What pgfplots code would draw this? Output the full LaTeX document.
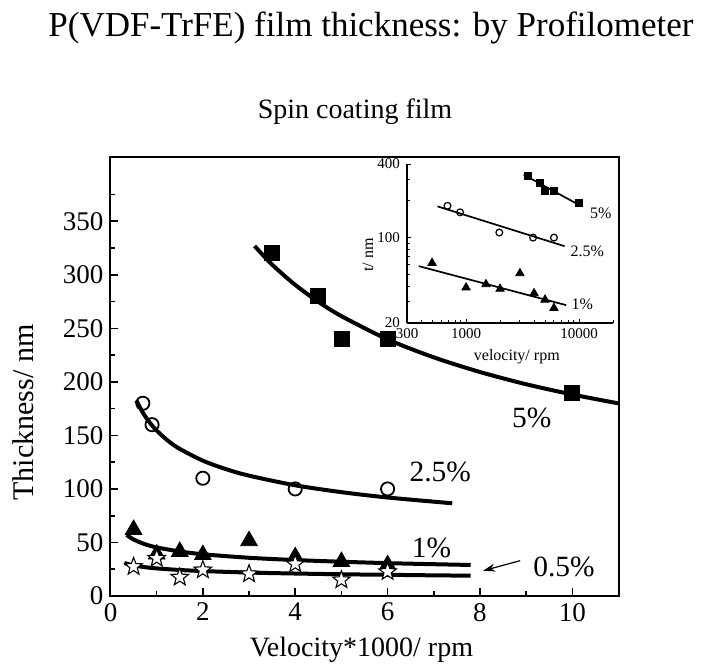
\documentclass[border=0pt]{standalone}
\usepackage{fontspec}
\setmainfont{Liberation Serif}
\usepackage{pgfplots}
\pgfplotsset{compat=1.18}
\usetikzlibrary{plotmarks,arrows.meta}

\pgfdeclareplotmark{ostar}{%
  \pgfpathmoveto{\pgfpointpolar{90}{\pgfplotmarksize}}%
  \pgfpathlineto{\pgfpointpolar{126}{0.42\pgfplotmarksize}}%
  \pgfpathlineto{\pgfpointpolar{162}{\pgfplotmarksize}}%
  \pgfpathlineto{\pgfpointpolar{198}{0.42\pgfplotmarksize}}%
  \pgfpathlineto{\pgfpointpolar{234}{\pgfplotmarksize}}%
  \pgfpathlineto{\pgfpointpolar{270}{0.42\pgfplotmarksize}}%
  \pgfpathlineto{\pgfpointpolar{306}{\pgfplotmarksize}}%
  \pgfpathlineto{\pgfpointpolar{342}{0.42\pgfplotmarksize}}%
  \pgfpathlineto{\pgfpointpolar{18}{\pgfplotmarksize}}%
  \pgfpathlineto{\pgfpointpolar{54}{0.42\pgfplotmarksize}}%
  \pgfpathclose
  \pgfusepathqfillstroke}

\begin{document}
\begin{tikzpicture}
\path[use as bounding box] (-55.25pt,-37.5pt) rectangle (300.25pt,298pt);
\begin{axis}[
 at={(0pt,0pt)}, anchor=south west,
 scale only axis, width=254pt, height=219.5pt,
 xmin=0, xmax=11, ymin=0, ymax=410,
 xtick={0,2,4,6,8,10}, ytick={0,50,100,150,200,250,300,350},
 minor xtick={1,3,5,7,9}, minor ytick={25,75,125,175,225,275,325,375},
 tick pos=left, tick align=inside,
 major tick length=4pt, minor tick length=2.5pt,
 axis line style={line width=1pt},
 every tick/.style={black, line width=0.8pt},
 tick label style={font=\fontsize{13.5}{14}\selectfont},
 /pgf/number format/assume math mode=true,
 xlabel={Velocity*1000/ rpm}, ylabel={Thickness/ nm},
 xlabel style={font=\fontsize{14}{15}\selectfont, at={(axis description cs:0.494,-0.123)}, anchor=center},
 ylabel style={font=\fontsize{15}{16}\selectfont, at={(axis description cs:-0.172,0.418)}, anchor=center},
 clip=false,
]
% fitted curves
\addplot[black, line width=2pt, smooth] coordinates {(3.12,326.9)(3.5,309.5)(4,290.6)(4.5,274.8)(5,261.4)(6,239.7)(7,222.9)(8,209.2)(9,197.8)(10,188.2)(11,179.9)};
\addplot[black, line width=2pt, smooth] coordinates {(0.56,182.7)(0.7,171.3)(0.85,161.9)(1,154.5)(1.25,144.8)(1.5,137.4)(2,126.4)(2.5,118.5)(3,112.4)(4,103.4)(5,97.0)(6,92.0)(7.4,86.6)};
\addplot[black, line width=2pt, smooth] coordinates {(0.35,57.0)(0.5,52.8)(0.75,48.3)(1,45.4)(1.5,41.6)(2,39.0)(3,35.7)(4,33.6)(5,32.0)(6,30.7)(7,29.7)(7.8,29.0)};
\addplot[black, line width=2pt, smooth] coordinates {(0.3,30.8)(0.5,28.6)(0.75,26.9)(1,25.8)(1.5,24.3)(2,23.3)(3,21.9)(4,21.0)(5,20.3)(6,19.8)(7,19.3)(7.8,19.0)};
% data
\addplot[only marks, mark=square*, mark size=3.75pt, black] coordinates {(3.5,320)(4.5,280)(5,240)(6,240)(10,190)};
\addplot[only marks, mark=o, mark size=3.3pt, black, mark options={line width=0.9pt, fill=none}] coordinates {(0.7,180)(0.9,160)(2,110)(4,100)(6,100)};
\addplot[only marks, mark=triangle*, mark size=4.8pt, black] coordinates {(0.5,62)(1,39)(1.5,41.5)(2,38.5)(3,51.5)(4,36.5)(5,32)(6,29)};
\addplot[only marks, mark=ostar, mark size=4.6pt, black, mark options={fill=white, line width=0.55pt}] coordinates {(0.5,27.4)(1,35.2)(1.5,17.5)(2,24.3)(3,20.6)(4,29.9)(5,15)(6,22.7)};
% annotations
\node[font=\fontsize{14.7}{15}\selectfont] at (axis cs:9.12,166) {5\%};
\node[font=\fontsize{14.7}{15}\selectfont] at (axis cs:7.14,116) {2.5\%};
\node[font=\fontsize{14.7}{15}\selectfont] at (axis cs:6.95,44.6) {1\%};
\node[font=\fontsize{14.7}{15}\selectfont] at (axis cs:9.82,27.4) {0.5\%};
\draw[-{Stealth[length=6pt,width=4pt]}, line width=0.6pt] (axis cs:8.87,33) -- (axis cs:8.07,23.6);
\end{axis}

\begin{axis}[
 at={(148.25pt,136.5pt)}, anchor=south west,
 scale only axis, width=103pt, height=79.5pt,
 xmode=log, ymode=log,
 xmin=300, xmax=20000, ymin=20, ymax=400,
 axis lines*=left,
 xtick={300,1000,10000}, xticklabels={300,1000,10000},
 minor xtick={400,500,600,700,800,900,2000,3000,4000,5000,6000,7000,8000,9000,20000},
 ytick={20,100,400}, yticklabels={20,100,400},
 minor ytick={30,40,50,60,70,80,90,200,300},
 tick align=inside, major tick length=2.2pt, minor tick length=1.3pt,
 axis line style={line width=0.65pt},
 every tick/.style={black, line width=0.5pt},
 tick label style={font=\fontsize{7.5}{8}\selectfont},
 xticklabel style={yshift=1pt},
 xlabel={velocity/ rpm}, ylabel={t/ nm},
 xlabel style={font=\fontsize{8}{9}\selectfont, at={(axis description cs:0.533,-0.212)}, anchor=center},
 ylabel style={font=\fontsize{8}{9}\selectfont, at={(axis description cs:-0.19,0.428)}, anchor=center},
 clip=false,
]
\addplot[black, line width=0.85pt] coordinates {(3240,327)(10560,180)};
\addplot[black, line width=0.85pt] coordinates {(559,180)(7460,85)};
\addplot[black, line width=0.85pt] coordinates {(381,58.4)(7700,28)};
\addplot[only marks, mark=square*, mark size=1.8pt, black] coordinates {(3500,320)(4500,280)(5000,242)(6000,242)(10000,192)};
\addplot[only marks, mark=o, mark size=1.7pt, black, mark options={line width=0.6pt, fill=white}] coordinates {(685,182)(885,161)(1970,110)(3920,100)(6000,100)};
\addplot[only marks, mark=triangle*, mark size=2.4pt, black] coordinates {(500,62)(1000,39)(1500,41.5)(2000,38)(3000,51)(4000,35)(5000,31)(6000,26.5)};
\node[font=\fontsize{8}{9}\selectfont] at (axis cs:15600,159) {5\%};
\node[font=\fontsize{8}{9}\selectfont] at (axis cs:11860,77.3) {2.5\%};
\node[font=\fontsize{8}{9}\selectfont] at (axis cs:10700,28.4) {1\%};
\end{axis}

\node[font=\fontsize{17.5}{18}\selectfont] at (130.25pt,284pt) {P(VDF-TrFE) film thickness: by Profilometer};
\node[font=\fontsize{14}{15}\selectfont] at (122.25pt,242pt) {Spin coating film};
\end{tikzpicture}
\end{document}
